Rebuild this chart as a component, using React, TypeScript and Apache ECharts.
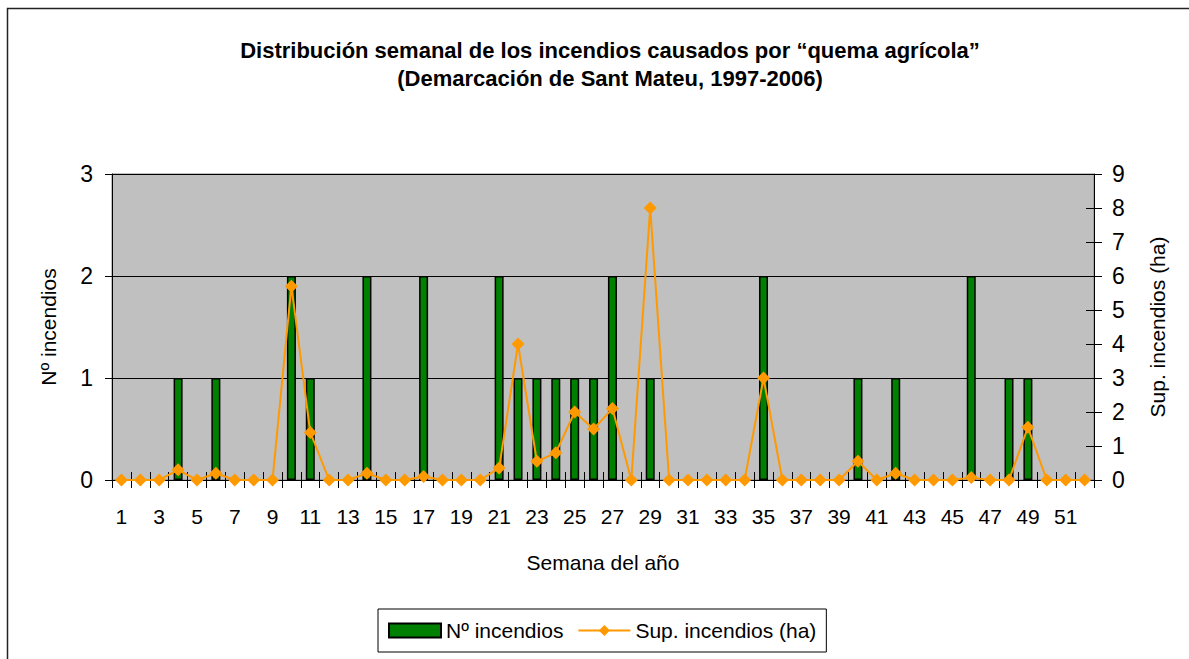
import React, { useEffect, useRef } from "react";
import * as echarts from "echarts";

const weeks = ["1","2","3","4","5","6","7","8","9","10","11","12","13","14","15","16","17","18","19","20","21","22","23","24","25","26","27","28","29","30","31","32","33","34","35","36","37","38","39","40","41","42","43","44","45","46","47","48","49","50","51","52"];

const numIncendios = [0,0,0,1,0,1,0,0,0,2,1,0,0,2,0,0,2,0,0,0,2,1,1,1,1,1,2,0,1,0,0,0,0,0,2,0,0,0,0,1,0,1,0,0,0,2,0,1,1,0,0,0];

const supIncendios = [0,0,0,0.3,0,0.2,0,0,0,5.7,1.4,0,0,0.2,0,0,0.1,0,0,0,0.35,4.0,0.55,0.8,2.0,1.5,2.1,0,8.0,0,0,0,0,0,3.0,0,0,0,0,0.55,0,0.2,0,0,0,0.07,0,0,1.55,0,0,0];

const leftTicks = [0, 1, 2, 3];
const rightTicks = [0, 1, 2, 3, 4, 5, 6, 7, 8, 9];

const titleLines = [
  "Distribución semanal de los incendios causados por “quema agrícola”",
  "(Demarcación de Sant Mateu, 1997-2006)",
];

const FONT = "'Liberation Sans Narrow', 'Arial Narrow', 'Liberation Sans', Arial, sans-serif";

export default function App() {
  const ref = useRef<HTMLDivElement>(null);
  useEffect(() => {
    if (!ref.current) return;
    const chart = echarts.init(ref.current, null, { renderer: "svg" });
    const axisText = { color: "#000", fontFamily: FONT, fontSize: 21 };
    chart.setOption({
      animation: false,
      backgroundColor: "#fff",
      textStyle: { fontFamily: FONT, color: "#000" },
      graphic: [
        {
          type: "rect",
          shape: { x: 7.5, y: 8.5, width: 1300, height: 800 },
          style: { fill: "none", stroke: "#222", lineWidth: 1.5 },
          silent: true,
        },
        {
          type: "text",
          x: 610,
          y: 36,
          style: {
            text: titleLines.join("\n"),
            align: "center",
            verticalAlign: "top",
            fontFamily: FONT,
            fontWeight: "bold",
            fontSize: 22,
            lineHeight: 28,
            fill: "#000",
          },
        },
      ],
      legend: {
        left: 378,
        top: 609,
        padding: [11, 10, 11, 10],
        itemGap: 14,
        itemWidth: 52,
        itemHeight: 14,
        borderColor: "#000",
        borderWidth: 1,
        textStyle: { fontFamily: FONT, fontSize: 21, color: "#000" },
        data: [
          { name: "Nº incendios", icon: "rect" },
          { name: "Sup. incendios (ha)" },
        ],
      },
      grid: {
        left: 112,
        right: 95,
        top: 174,
        bottom: 179,
        show: true,
        backgroundColor: "#C0C0C0",
        borderColor: "#808080",
        borderWidth: 1,
      },
      xAxis: [
        {
          type: "category",
          data: weeks,
          boundaryGap: true,
          name: "Semana del año",
          nameLocation: "middle",
          nameGap: 72,
          nameTextStyle: axisText,
          axisLine: { show: true, lineStyle: { color: "#000", width: 1 } },
          axisTick: { show: true, interval: 0, length: 8, lineStyle: { color: "#000" } },
          axisLabel: { interval: 1, margin: 26, ...axisText },
          splitLine: { show: false },
        },
        {
          type: "category",
          data: weeks,
          position: "bottom",
          boundaryGap: true,
          axisLine: { show: false },
          axisTick: { show: true, inside: true, interval: 0, length: 8, lineStyle: { color: "#000" } },
          axisLabel: { show: false },
          splitLine: { show: false },
        },
      ],
      yAxis: [
        {
          type: "value",
          min: 0,
          max: 3,
          interval: 1,
          position: "left",
          name: "Nº incendios",
          nameLocation: "middle",
          nameGap: 53,
          nameTextStyle: axisText,
          axisLine: { show: true, lineStyle: { color: "#000" } },
          axisTick: { show: true, length: 7, lineStyle: { color: "#000" } },
          axisLabel: {
            margin: 19,
            ...axisText,
            fontSize: 23,
            formatter: (v: number) => (leftTicks.includes(v) ? String(v) : ""),
          },
          splitLine: { show: true, lineStyle: { color: "#000", width: 1 } },
        },
        {
          type: "value",
          min: 0,
          max: 9,
          interval: 1,
          position: "right",
          name: "Sup. incendios (ha)",
          nameLocation: "middle",
          nameGap: 53,
          nameTextStyle: axisText,
          axisLine: { show: true, lineStyle: { color: "#000" } },
          axisTick: { show: true, length: 8, lineStyle: { color: "#000" } },
          axisLabel: {
            margin: 18,
            ...axisText,
            fontSize: 23,
            formatter: (v: number) => (rightTicks.includes(v) ? String(v) : ""),
          },
          splitLine: { show: false },
        },
        {
          type: "value",
          min: 0,
          max: 9,
          interval: 1,
          position: "right",
          axisLine: { show: false },
          axisTick: { show: true, inside: true, length: 8, lineStyle: { color: "#000" } },
          axisLabel: { show: false },
          splitLine: { show: false },
        },
      ],
      series: [
        {
          name: "Nº incendios",
          type: "bar",
          xAxisIndex: 0,
          yAxisIndex: 0,
          data: numIncendios,
          barWidth: 9,
          itemStyle: { color: "#008000", borderColor: "#000", borderWidth: 1.5 },
          z: 2,
        },
        {
          name: "Sup. incendios (ha)",
          type: "line",
          xAxisIndex: 0,
          yAxisIndex: 1,
          data: supIncendios,
          symbol: "diamond",
          symbolSize: 13,
          showAllSymbol: true,
          lineStyle: { color: "#FF9900", width: 2 },
          itemStyle: { color: "#FF9900" },
          z: 3,
        },
      ],
    });
    return () => chart.dispose();
  }, []);
  return (
    <div
      ref={ref}
      style={{ position: "absolute", left: 0, top: 0, width: 1189, height: 659 }}
    />
  );
}
